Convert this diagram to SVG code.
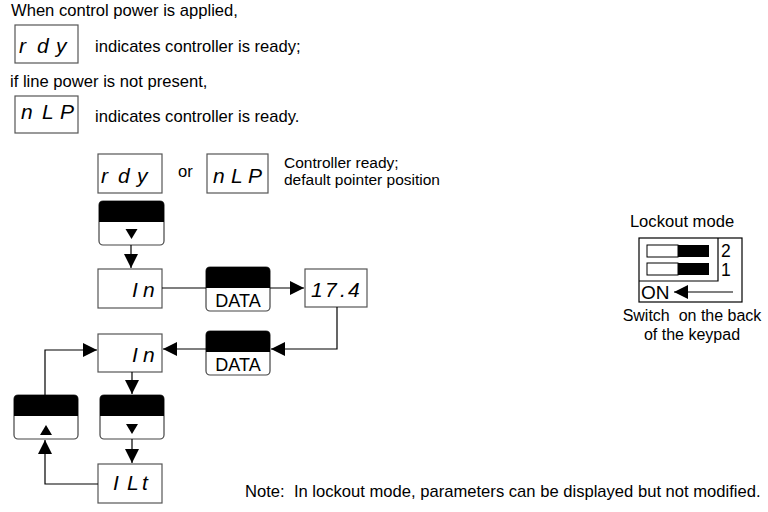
<svg xmlns="http://www.w3.org/2000/svg" width="768" height="512" viewBox="0 0 768 512">
<style>
.t{font-family:"Liberation Sans",Arial,sans-serif;font-size:16.6px;fill:#000}
.s{font-size:15.5px}
.seg{font-family:"Liberation Sans",Arial,sans-serif;font-style:italic;font-size:21px;fill:#000}
.box{fill:#fff;stroke:#555;stroke-width:1.2}
.key{fill:#fff;stroke:#444;stroke-width:1.2}
.keytop{fill:#000}
.data{font-family:"Liberation Sans",Arial,sans-serif;font-size:18px;fill:#000}
.ln{fill:none;stroke:#000;stroke-width:1.2}
</style>
<defs>
<marker id="ah" viewBox="0 0 10 10" refX="10" refY="5" markerWidth="14" markerHeight="14" markerUnits="userSpaceOnUse" orient="auto">
<path d="M0,0 L10,5 L0,10 Z" fill="#000"/>
</marker>
</defs>

<text class="t" x="11" y="16">When control power is applied,</text>
<g id="top-rdy"><rect class="box" x="15" y="25" width="63" height="38"/><text class="seg" x="19 37 56" y="53">rdy</text></g>
<text class="t" x="95" y="52">indicates controller is ready;</text>
<text class="t" x="10" y="87">if line power is not present,</text>
<g id="top-nlp"><rect class="box" x="15" y="96" width="63" height="37"/><text class="seg" x="21 42 60" y="119">nLP</text></g>
<text class="t" x="95" y="122">indicates controller is ready.</text>

<g id="rdy"><rect class="box" x="98" y="154" width="64" height="39"/><text class="seg" x="101 118 137" y="183">rdy</text></g>
<text class="t" x="178" y="177">or</text>
<g id="nlp"><rect class="box" x="207" y="154" width="61" height="39"/><text class="seg" x="213 231 248" y="183">nLP</text></g>
<text class="t s" x="284" y="168">Controller ready;</text>
<text class="t s" x="284" y="185">default pointer position</text>

<g id="key-down1"><rect class="key" x="99" y="201" width="65" height="44" rx="4"/><path class="keytop" d="M103,201 H160 A4,4 0 0 1 164,205 V222 H99 V205 A4,4 0 0 1 103,201 Z"/><path d="M125.5,229 H137.5 L131.5,239 Z" fill="#000"/></g>

<g id="in1"><rect class="box" x="98" y="269" width="64" height="39"/><text class="seg" x="132 143" y="297">In</text></g>

<g id="data1"><rect class="key" x="206" y="267" width="64" height="44" rx="4"/><path class="keytop" d="M210,267 H266 A4,4 0 0 1 270,271 V288 H206 V271 A4,4 0 0 1 210,267 Z"/><text class="data" x="238" y="307" text-anchor="middle">DATA</text></g>

<g id="val"><rect class="box" x="305" y="269" width="62" height="38"/><text class="seg" x="311 325 340 348" y="297">17.4</text></g>

<g id="data2"><rect class="key" x="206" y="331" width="64" height="44" rx="4"/><path class="keytop" d="M210,331 H266 A4,4 0 0 1 270,335 V352 H206 V335 A4,4 0 0 1 210,331 Z"/><text class="data" x="238" y="371" text-anchor="middle">DATA</text></g>

<g id="in2"><rect class="box" x="98" y="334" width="64" height="38"/><text class="seg" x="132 143" y="362">In</text></g>

<g id="key-up"><rect class="key" x="14" y="395" width="64" height="44" rx="4"/><path class="keytop" d="M18,395 H74 A4,4 0 0 1 78,399 V416 H14 V399 A4,4 0 0 1 18,395 Z"/><path d="M40,435 H52 L46,425 Z" fill="#000"/></g>

<g id="key-down2"><rect class="key" x="100" y="395" width="64" height="44" rx="4"/><path class="keytop" d="M104,395 H160 A4,4 0 0 1 164,399 V416 H100 V399 A4,4 0 0 1 104,395 Z"/><path d="M126,424 H138 L132,434 Z" fill="#000"/></g>

<g id="ilt"><rect class="box" x="98" y="464" width="64" height="39"/><text class="seg" x="113 127 142" y="490">ILt</text></g>

<g id="connectors">
<line class="ln" x1="131" y1="245" x2="131" y2="268" marker-end="url(#ah)"/>
<line class="ln" x1="162" y1="288" x2="206" y2="288"/>
<line class="ln" x1="270" y1="288" x2="304" y2="288" marker-end="url(#ah)"/>
<polyline class="ln" points="337,307 337,349 271,349" marker-end="url(#ah)"/>
<line class="ln" x1="206" y1="349" x2="163" y2="349" marker-end="url(#ah)"/>
<polyline class="ln" points="45,395 45,350 97,350" marker-end="url(#ah)"/>
<line class="ln" x1="132" y1="372" x2="132" y2="394" marker-end="url(#ah)"/>
<line class="ln" x1="132" y1="439" x2="132" y2="463" marker-end="url(#ah)"/>
<polyline class="ln" points="98,484 45,484 45,440" marker-end="url(#ah)"/>
</g>

<g id="lockout">
<text class="t" x="682" y="227" text-anchor="middle">Lockout mode</text>
<rect x="639" y="238" width="103" height="64" fill="#fff" stroke="#000" stroke-width="1.2"/>
<polyline points="639,281 718,281 718,238" fill="none" stroke="#000" stroke-width="1.2"/>
<rect x="647" y="245" width="31" height="12" fill="#fff" stroke="#000" stroke-width="1"/>
<rect x="678" y="245" width="31" height="12" fill="#000"/>
<rect x="647" y="263" width="31" height="12" fill="#fff" stroke="#000" stroke-width="1"/>
<rect x="678" y="263" width="31" height="12" fill="#000"/>
<text class="t" x="721" y="257" style="font-size:17.5px">2</text>
<text class="t" x="721" y="276" style="font-size:17.5px">1</text>
<text class="t" x="641" y="299" style="font-size:19px">ON</text>
<line x1="733" y1="292" x2="674" y2="292" stroke="#000" stroke-width="1.2" marker-end="url(#ah)"/>
<text class="t" x="692" y="321" text-anchor="middle" xml:space="preserve" style="font-size:16px">Switch  on the back</text>
<text class="t" x="692" y="340" text-anchor="middle" style="font-size:16px">of the keypad</text>
</g>

<text class="t" x="245" y="497" xml:space="preserve">Note:  In lockout mode, parameters can be displayed but not modified.</text>
</svg>
